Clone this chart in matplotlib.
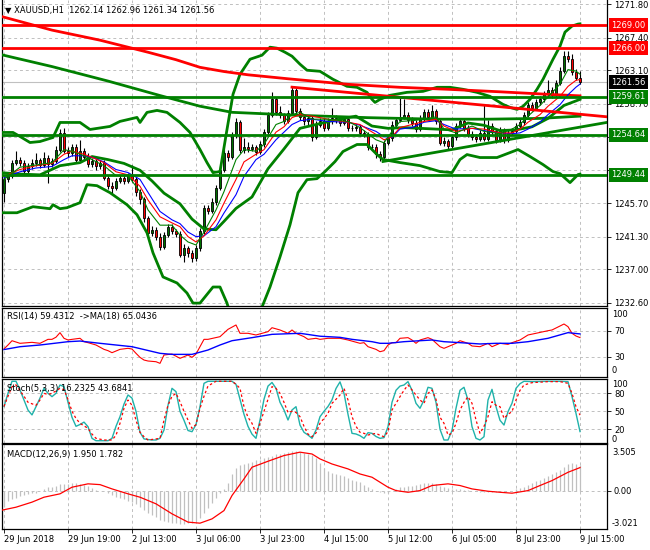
import matplotlib
matplotlib.use("Agg")
import matplotlib.pyplot as plt
import matplotlib.transforms as mtransforms
import numpy as np

plt.rcParams['font.family'] = ['DejaVu Sans']
FS = 6

# ---- hourly candles, XAUUSD H1 (bar 0 .. 144) ----
opens = [1247.0, 1248.8, 1249.3, 1251.0, 1251.4, 1251.0, 1249.9, 1250.5, 1250.9, 1251.3,
         1250.7, 1251.6, 1250.8, 1251.2, 1252.7, 1254.9, 1252.5, 1252.3, 1253.0, 1251.4,
         1252.5, 1251.8, 1250.8, 1251.2, 1250.5, 1251.0, 1249.0, 1248.0, 1247.7, 1248.6,
         1249.0, 1248.6, 1249.2, 1248.8, 1247.2, 1246.2, 1243.7, 1241.8, 1242.2, 1241.3,
         1240.0, 1241.5, 1242.6, 1242.0, 1241.7, 1238.9, 1239.8, 1239.1, 1238.5, 1239.8,
         1242.0, 1245.0, 1244.7, 1245.8, 1247.7, 1250.1, 1252.3, 1251.8, 1254.6, 1256.3,
         1252.6, 1253.1, 1252.8, 1253.0, 1252.4, 1253.4, 1255.0, 1257.3, 1259.3, 1257.6,
         1257.2, 1256.5, 1257.5, 1260.5, 1257.8, 1257.0, 1256.4, 1256.8, 1254.4, 1256.0,
         1256.4, 1255.6, 1256.4, 1256.8, 1256.6, 1256.2, 1256.7, 1255.6, 1255.5, 1255.7,
         1254.9, 1254.7, 1253.1, 1253.0, 1252.1, 1251.8, 1253.6, 1254.2, 1256.0, 1256.6,
         1257.0, 1257.2, 1256.6, 1256.2, 1255.4, 1256.8, 1257.6, 1257.0, 1257.8, 1256.5,
         1253.6, 1253.8, 1253.2, 1254.3, 1255.8, 1256.4, 1255.5, 1254.7, 1254.4, 1254.1,
         1254.9, 1254.1, 1255.8, 1255.1, 1254.0, 1255.3, 1254.0, 1254.9, 1255.2, 1255.8,
         1256.3, 1257.3, 1258.6, 1258.2, 1258.9, 1259.3, 1260.0, 1260.5, 1259.9, 1261.5,
         1263.0, 1265.0, 1264.6, 1262.9, 1262.14]
highs = [1249.2, 1249.8, 1251.3, 1252.5, 1251.8, 1251.3, 1250.9, 1251.5, 1252.2, 1251.6,
         1252.4, 1252.0, 1251.6, 1253.2, 1255.4, 1255.5, 1253.0, 1253.5, 1253.4, 1254.0,
         1252.9, 1252.2, 1251.6, 1251.5, 1251.4, 1251.3, 1249.3, 1248.4, 1249.0, 1249.4,
         1249.5, 1249.6, 1250.7, 1249.1, 1247.6, 1246.5, 1244.0, 1242.7, 1242.6, 1241.8,
         1241.9, 1243.0, 1242.9, 1242.3, 1242.0, 1240.3, 1240.1, 1239.5, 1240.2, 1242.4,
         1245.4, 1245.5, 1246.4, 1248.1, 1250.5, 1252.8, 1252.7, 1255.0, 1256.9, 1256.6,
         1254.2, 1253.7, 1253.5, 1253.3, 1253.8, 1255.4, 1257.7, 1260.2, 1259.6, 1258.4,
         1257.5, 1257.9, 1261.0, 1260.8, 1258.2, 1257.3, 1257.2, 1257.1, 1256.4, 1256.9,
         1256.8, 1256.8, 1258.2, 1257.2, 1257.0, 1257.1, 1257.0, 1256.0, 1256.1, 1256.0,
         1255.3, 1255.0, 1253.5, 1253.4, 1252.5, 1254.0, 1254.6, 1256.4, 1257.0, 1259.5,
         1259.3, 1257.6, 1257.0, 1256.6, 1257.2, 1258.0, 1258.0, 1258.6, 1258.1, 1256.8,
         1254.4, 1254.1, 1254.7, 1256.2, 1256.9, 1256.7, 1255.9, 1255.1, 1254.8, 1255.3,
         1258.6, 1256.6, 1256.2, 1255.4, 1255.7, 1255.6, 1255.3, 1255.6, 1256.2, 1256.7,
         1257.7, 1259.0, 1259.0, 1259.4, 1259.8, 1260.4, 1261.9, 1260.9, 1261.9, 1263.5,
         1265.6, 1265.6, 1265.2, 1263.3, 1262.96]
lows = [1245.9, 1248.4, 1249.0, 1250.7, 1250.6, 1249.4, 1249.6, 1250.2, 1250.6, 1250.3,
        1250.4, 1248.3, 1250.4, 1250.9, 1252.4, 1252.2, 1251.8, 1251.9, 1251.0, 1251.1,
        1251.4, 1250.4, 1250.4, 1250.1, 1250.2, 1248.7, 1247.6, 1247.0, 1247.4, 1248.3,
        1248.2, 1248.3, 1248.5, 1246.6, 1245.6, 1243.2, 1241.3, 1241.4, 1240.9, 1239.6,
        1239.7, 1241.2, 1241.6, 1241.3, 1238.6, 1238.0, 1238.6, 1238.0, 1238.1, 1239.4,
        1241.7, 1244.2, 1244.4, 1245.5, 1247.4, 1249.8, 1251.2, 1251.5, 1254.2, 1252.2,
        1252.3, 1252.4, 1252.5, 1252.0, 1252.1, 1253.1, 1254.7, 1257.0, 1257.2, 1256.8,
        1256.1, 1256.2, 1257.2, 1257.4, 1256.6, 1255.9, 1256.0, 1253.9, 1254.1, 1255.7,
        1255.2, 1255.3, 1256.1, 1256.2, 1255.8, 1255.9, 1255.2, 1255.1, 1255.2, 1254.5,
        1254.3, 1252.7, 1252.6, 1251.6, 1251.2, 1251.5, 1253.3, 1253.9, 1255.7, 1256.3,
        1256.7, 1256.2, 1255.8, 1255.0, 1255.1, 1256.5, 1256.7, 1256.7, 1256.1, 1253.3,
        1253.2, 1252.7, 1252.9, 1254.0, 1255.5, 1255.1, 1254.3, 1254.0, 1253.7, 1253.8,
        1253.8, 1253.8, 1254.7, 1253.6, 1253.7, 1253.6, 1253.7, 1254.6, 1254.9, 1255.5,
        1256.0, 1257.0, 1257.8, 1257.9, 1258.5, 1259.0, 1259.7, 1259.5, 1259.6, 1261.2,
        1262.7, 1264.2, 1262.5, 1261.8, 1261.34]
closes = [1248.8, 1249.3, 1251.0, 1251.4, 1251.0, 1249.9, 1250.5, 1250.9, 1251.3, 1250.7,
          1251.6, 1250.8, 1251.2, 1252.7, 1254.9, 1252.5, 1252.3, 1253.0, 1251.4, 1252.5,
          1251.8, 1250.8, 1251.2, 1250.5, 1251.0, 1249.0, 1248.0, 1247.7, 1248.6, 1249.0,
          1248.6, 1249.2, 1248.8, 1247.2, 1246.2, 1243.7, 1241.8, 1242.2, 1241.3, 1240.0,
          1241.5, 1242.6, 1242.0, 1241.7, 1238.9, 1239.8, 1239.1, 1238.5, 1239.8, 1242.0,
          1245.0, 1244.7, 1245.8, 1247.7, 1250.1, 1252.3, 1251.8, 1254.6, 1256.3, 1252.6,
          1253.1, 1252.8, 1253.0, 1252.4, 1253.4, 1255.0, 1257.3, 1259.3, 1257.6, 1257.2,
          1256.5, 1257.5, 1260.5, 1257.8, 1257.0, 1256.4, 1256.8, 1254.4, 1256.0, 1256.4,
          1255.6, 1256.4, 1256.8, 1256.6, 1256.2, 1256.7, 1255.6, 1255.5, 1255.7, 1254.9,
          1254.7, 1253.1, 1253.0, 1252.1, 1251.8, 1253.6, 1254.2, 1256.0, 1256.6, 1257.0,
          1257.2, 1256.6, 1256.2, 1255.4, 1256.8, 1257.6, 1257.0, 1257.8, 1256.5, 1253.6,
          1253.8, 1253.2, 1254.3, 1255.8, 1256.4, 1255.5, 1254.7, 1254.4, 1254.1, 1254.9,
          1254.1, 1255.8, 1255.1, 1254.0, 1255.3, 1254.0, 1254.9, 1255.2, 1255.8, 1256.3,
          1257.3, 1258.6, 1258.2, 1258.9, 1259.3, 1260.0, 1260.5, 1259.9, 1261.5, 1263.0,
          1265.0, 1264.6, 1262.9, 1262.14, 1261.56]

tick_bars = [0, 16, 32, 48, 64, 80, 96, 112, 128, 144]
tick_labels = ['29 Jun 2018', '29 Jun 19:00', '2 Jul 13:00', '3 Jul 06:00', '3 Jul 23:00',
               '4 Jul 15:00', '5 Jul 12:00', '6 Jul 05:00', '8 Jul 23:00', '9 Jul 15:00']
price_ticks = [1232.6, 1237.0, 1241.3, 1245.7, 1250.0, 1254.4, 1258.7, 1263.1, 1267.4, 1271.8]
hidden_ticks = [1250.0, 1254.4]

red_levels = [1269.00, 1266.00]
green_levels = [1259.61, 1254.64, 1249.44]
last_price = 1261.56

# ---- indicator lines: (bar, value) ----
ma_long = [(-1, 1270.22), (12, 1268.38), (24, 1267.06), (36, 1265.48), (43, 1264.5), (49, 1263.5),
           (55, 1262.95), (61, 1262.52), (71, 1262.0), (86, 1261.27), (99, 1260.88), (111, 1260.62),
           (124, 1260.29), (136, 1259.96), (144, 1259.76)]
band_long = [(-1, 1265.2), (12, 1263.6), (26, 1261.7), (39, 1259.8), (49, 1258.4), (57, 1257.6),
             (74, 1257.2), (91, 1256.9), (108, 1256.7), (121, 1256.7), (134, 1256.8), (144, 1257.1)]
red_trend = [(72, 1260.9), (151, 1257.0)]
green_trend = [(94.75, 1251.15), (151, 1256.3)]

bb_upper = [(-1, 1254.96), (2.25, 1254.96), (4, 1254.43), (6.5, 1253.64), (9, 1253.77), (12.25, 1254.30),
            (14, 1256.27), (16.5, 1256.27), (19, 1256.27), (21.5, 1255.35), (26.5, 1255.75), (29, 1256.41),
            (33.25, 1256.93), (34, 1256.27), (35.75, 1257.59), (38.25, 1257.85), (40.75, 1257.59), (44, 1256.27),
            (46.5, 1254.96), (49, 1252.72), (50.75, 1251.01), (52.25, 1249.69), (54, 1249.83), (55.75, 1255.35),
            (57.25, 1259.96), (59, 1262.59), (61.5, 1264.56), (64.5, 1265.09), (66.5, 1266.14), (68.25, 1266.01),
            (70.25, 1265.48), (72, 1264.96), (74, 1263.91), (75.75, 1263.12), (79, 1262.98), (82.25, 1261.93),
            (85.75, 1261.01), (88.25, 1260.88), (90.75, 1260.22), (92, 1259.30), (92.75, 1258.90), (94, 1259.30),
            (96.5, 1259.83), (100.75, 1260.22), (104.75, 1260.35), (108.25, 1260.88), (111.5, 1260.88),
            (114.75, 1260.62), (118.25, 1260.22), (121.5, 1259.69), (124.75, 1258.64), (126.5, 1258.25),
            (128.25, 1257.98), (129.75, 1258.38), (131.5, 1259.30), (133.25, 1260.62), (134.75, 1261.93),
            (137.25, 1264.56), (139, 1266.27), (140.25, 1268.12), (142, 1268.91), (143.5, 1269.17), (144, 1269.2)]
bb_middle = [(-1, 1249.7), (4, 1249.5), (9, 1249.4), (14, 1250.6), (19, 1251.0), (22, 1251.8), (26, 1251.4),
             (30, 1250.9), (34, 1250.0), (37, 1248.6), (40, 1247.0), (44, 1245.6), (47, 1243.6), (50, 1242.3),
             (53, 1242.2), (55, 1243.3), (58, 1245.0), (62, 1246.5), (66, 1250.2), (70, 1252.8), (74, 1255.5),
             (78, 1256.0), (82, 1256.5), (88, 1257.1), (92, 1255.8), (96, 1255.5), (100, 1255.6), (104, 1255.5),
             (108, 1255.4), (112, 1255.3), (116, 1256.2), (120, 1255.9), (124, 1255.2), (128, 1255.3),
             (132, 1255.7), (136, 1256.8), (140, 1258.5), (144, 1259.3)]
bb_lower = [(-1, 1244.43), (3.25, 1244.43), (7.25, 1245.22), (11.5, 1244.96), (12.25, 1245.48), (14, 1244.96),
            (15.75, 1245.09), (19, 1245.75), (20.75, 1248.11), (23.25, 1247.98), (26.5, 1247.06), (30.75, 1245.48),
            (33.25, 1244.17), (35.75, 1241.80), (37.25, 1239.17), (39.75, 1236.01), (43.25, 1235.22),
            (45.75, 1233.90), (47.25, 1232.58), (49, 1232.58), (52.25, 1234.69), (54, 1234.69), (55.75, 1232.58),
            (57.75, 1229.0), (61.5, 1228.4), (64.5, 1232.06), (66.5, 1234.69), (69, 1238.64), (71.5, 1242.85),
            (73.5, 1247.06), (75.75, 1248.77), (78.25, 1248.90), (80.25, 1249.83), (82.75, 1251.14),
            (84.75, 1252.46), (88.25, 1253.38), (90.75, 1253.38), (93.25, 1252.06), (94.75, 1251.41),
            (99, 1251.01), (104, 1250.61), (109, 1249.83), (112, 1249.69), (114, 1251.41), (115.75, 1252.06),
            (119, 1251.67), (123.25, 1251.67), (128.5, 1252.72), (131.5, 1251.80), (134.75, 1250.75),
            (137.25, 1249.83), (139, 1249.56), (141.5, 1248.38), (143.5, 1249.43), (144, 1249.5)]

ma_bars = [0, 4, 8, 12, 15, 17, 20, 22, 25, 28, 31, 34, 36, 39, 42, 44, 46, 48, 50, 53,
           55, 58, 60, 63, 65, 68, 70, 72, 74, 77, 81, 86, 89, 93, 95, 97, 99, 102, 105, 108,
           110, 113, 117, 120, 124, 127, 129, 131, 134, 136, 139, 141, 143, 144]
ma_fast = [1248.8, 1250.4, 1250.7, 1251.0, 1252.7, 1252.5, 1251.9, 1251.4, 1250.6, 1249.3,
           1249.3, 1247.2, 1244.8, 1242.8, 1242.8, 1241.5, 1240.6, 1240.2, 1241.9, 1244.8,
           1247.2, 1251.4, 1252.7, 1252.5, 1253.4, 1256.0, 1256.4, 1257.3, 1257.6, 1256.7,
           1256.7, 1256.4, 1255.6, 1254.0, 1253.6, 1255.1, 1256.4, 1256.5, 1256.7, 1257.0,
           1255.4, 1254.9, 1255.8, 1255.1, 1254.8, 1255.4, 1256.0, 1257.1, 1258.5, 1259.6,
           1261.3, 1263.2, 1263.0, 1262.6]
ma_mid = [1249.2, 1250.1, 1250.6, 1250.9, 1252.1, 1252.5, 1252.1, 1251.7, 1251.0, 1249.8,
          1249.4, 1247.9, 1246.1, 1243.9, 1243.1, 1242.6, 1241.3, 1240.6, 1241.4, 1243.5,
          1245.7, 1248.8, 1251.1, 1252.1, 1252.7, 1255.0, 1255.7, 1256.9, 1257.3, 1257.1,
          1256.7, 1256.3, 1256.0, 1254.7, 1254.0, 1254.4, 1255.6, 1256.0, 1256.4, 1256.7,
          1255.8, 1255.1, 1255.5, 1255.4, 1254.9, 1254.9, 1255.4, 1256.3, 1257.3, 1258.4,
          1259.7, 1261.0, 1261.8, 1261.9]
ma_slow = [1249.0, 1249.8, 1250.3, 1250.5, 1251.4, 1251.9, 1251.9, 1251.7, 1251.1, 1250.1,
           1249.7, 1248.8, 1247.1, 1244.6, 1243.5, 1243.0, 1241.9, 1241.3, 1241.4, 1242.6,
           1244.4, 1246.8, 1249.2, 1251.4, 1252.1, 1254.0, 1255.0, 1256.0, 1256.5, 1256.7,
           1256.4, 1256.3, 1255.9, 1255.1, 1254.4, 1254.3, 1255.4, 1255.6, 1256.3, 1256.5,
           1256.0, 1255.4, 1255.5, 1255.2, 1254.9, 1254.8, 1254.9, 1255.4, 1256.3, 1257.3,
           1258.6, 1259.9, 1260.9, 1261.3]

rsi = [(0, 42), (1, 48.0), (2, 54.6), (4, 50.6), (6, 51.6), (7, 52.1), (9, 50.6), (11, 56.7), (12, 56.7),
       (13, 60), (14, 67.0), (15, 58.3), (16, 55.7), (17, 56.7), (19, 58.3), (20, 53.1), (21, 51.6),
       (23, 48.0), (25, 41.3), (26, 39.3), (27, 36.2), (29, 41.3), (31, 42.9), (32, 41.8), (33, 35.2),
       (34, 29.0), (35, 24.9), (36, 23.4), (38, 22.3), (39, 19.8), (40, 32.6), (42, 34.1), (44, 27.5),
       (46, 32.6), (47, 29.0), (48, 34.1), (50, 56.7), (51, 56.7), (54, 60.8), (56, 72.1), (58, 78.8),
       (59, 66.0), (61, 66.0), (63, 63.4), (66, 68.5), (67, 74.6), (69, 71.1), (71, 66.0), (72, 71.1),
       (73, 66.0), (75, 60.8), (76, 56.7), (78, 58.3), (79, 56.7), (81, 58.3), (84, 58.3), (86, 55.7),
       (89, 50.6), (90, 51.6), (91, 45.4), (93, 41.3), (94, 37.7), (95, 39.3), (96, 48.0), (97, 51.6),
       (98, 51.6), (99, 58.3), (101, 59.3), (102, 55.7), (103, 50.6), (104, 55.7), (106, 59.3), (107, 56.7),
       (109, 45.4), (110, 42.9), (111, 45.4), (113, 50.6), (114, 54.6), (116, 50.6), (117, 46.5),
       (119, 45.4), (121, 50.6), (122, 45.4), (123, 48.0), (124, 50.6), (126, 49.0), (127, 51.6),
       (129, 55.7), (131, 63.4), (133, 66.0), (136, 70.0), (137, 71.1), (139, 77.2), (140, 80.3),
       (141, 76.2), (142, 66.0), (143, 61.8), (144, 59.43)]
rsi_ma = [(0, 41), (4, 45.4), (9, 48.0), (16, 53.1), (19, 54.1), (24, 50.6), (32, 45.4), (39, 35.2),
          (42, 33.6), (47, 33.6), (51, 40.3), (54, 48.0), (57, 54.6), (62, 59.3), (67, 64.4), (74, 66.0),
          (79, 61.5), (84, 59.8), (87, 56.7), (92, 53.1), (94, 50.6), (96, 50.6), (100, 53.1), (104, 54.6),
          (107, 55.7), (110, 53.1), (114, 51.6), (119, 49.6), (123, 50.6), (127, 50.6), (131, 53.1),
          (136, 58.3), (141, 67.0), (144, 65.04)]

stoch_k = [(0, 58), (1, 80), (2, 100), (3, 100), (4, 85.5), (6, 52), (7, 44), (8, 57.7), (9, 72), (10, 88.3),
           (11, 80), (12, 74.4), (13, 80), (14, 93.8), (15, 91.1), (16, 65), (17, 40), (18, 25), (19, 28),
           (20, 32), (21, 24.4), (22, 5), (23, 1), (24, 1), (26, 1), (27, 5), (28, 25), (29, 41.1), (30, 62),
           (31, 77.2), (32, 72), (33, 50), (34, 15), (35, 4), (36, 3), (37, 2.2), (38, 2.2), (39, 5),
           (40, 18.8), (41, 60), (42, 88.3), (43, 82.7), (44, 50), (45, 35), (46, 18), (47, 16), (48, 28),
           (49, 57.7), (50, 96.6), (51, 100), (54, 100), (57, 100), (58, 95), (59, 70), (60, 45), (61, 25),
           (62, 12), (63, 5), (64, 35.5), (65, 70), (66, 92), (67, 98), (68, 88.3), (69, 65), (70, 52.2),
           (71, 35.5), (72, 52.2), (73, 57.7), (74, 27.1), (75, 15), (76, 10.5), (77, 5), (78, 18.8),
           (79, 41), (80, 50), (81, 58), (82, 69), (83, 88), (84, 99), (85, 80), (86, 45), (87, 13.3),
           (88, 12.2), (89, 9.4), (90, 5), (91, 14.4), (92, 13.3), (93, 8), (94, 5), (95, 6.1), (96, 24.4),
           (97, 65), (98, 85), (99, 92), (100, 93.8), (101, 99.4), (102, 85), (103, 63.3), (104, 55),
           (105, 68.8), (106, 90), (107, 88.3), (108, 65), (109, 20), (110, 2.2), (111, 2.2), (112, 18),
           (113, 55), (114, 85), (115, 90), (116, 68.8), (117, 24.4), (118, 5), (119, 2.2), (120, 7.7),
           (121, 68.8), (122, 86.6), (123, 57.7), (124, 35), (125, 27.1), (126, 49.4), (127, 63.3),
           (128, 88.3), (129, 96), (130, 100), (132, 99.4), (136, 100), (139, 100), (141, 99.4),
           (142, 74.4), (143, 46.6), (144, 16.23)]
stoch_d = [(0, 58), (1, 75), (2, 91), (3, 94), (5, 75), (6, 65), (8, 60), (9, 68.8), (10, 79.9), (11, 78),
           (12, 80), (13, 84), (14, 88.3), (15, 86), (16, 70), (17, 50), (18, 38), (19, 30), (21, 21.6),
           (22, 12), (23, 5), (25, 2.2), (27, 2.2), (28, 10), (29, 30), (30, 55), (31, 68.8), (32, 60),
           (33, 35), (34, 15), (35, 7.7), (36, 2.2), (39, 4.9), (40, 35.5), (41, 60), (42, 75), (43, 79.9),
           (44, 66.0), (45, 50), (46, 35.5), (47, 21.6), (48, 28), (49, 55), (50, 75), (51, 92.2), (53, 100),
           (57, 100), (58, 95), (59, 88.3), (60, 57.7), (61, 40), (62, 30), (63, 13.3), (64, 29.9), (65, 50),
           (66, 70), (67, 91.1), (68, 88), (69, 80), (70, 65), (71, 48), (72, 50), (73, 48), (74, 41.1),
           (75, 25), (76, 12), (77, 7.7), (78, 14), (79, 30), (80, 38), (81, 46.6), (82, 63.3), (83, 70),
           (84, 77.2), (85, 88.3), (86, 68.8), (87, 41.1), (88, 25), (89, 15), (90, 13.3), (91, 10.5),
           (93, 13.3), (94, 10), (95, 7.7), (96, 16.0), (97, 52.2), (99, 74.4), (100, 85), (101, 93.8),
           (102, 85.5), (104, 68.8), (105, 63.3), (106, 79.9), (107, 85.5), (108, 70), (109, 40), (110, 30),
           (111, 10.5), (112, 13.3), (113, 30), (114, 52.2), (115, 65), (116, 74.4), (117, 63.3), (118, 35.5),
           (119, 13.3), (120, 25), (121, 41.1), (122, 66.0), (123, 60), (124, 57.7), (125, 38.3), (126, 45),
           (127, 49.4), (128, 68.8), (129, 85), (130, 93.8), (132, 97.7), (136, 99.4), (139, 99.4),
           (141, 96.6), (142, 79.9), (143, 57.7), (144, 43.68)]

macd_main = [-1.27, -0.77, -0.65, -0.55, -0.40, -0.30, -0.25, -0.20, -0.15, -0.05,
             0.15, 0.25, 0.30, 0.40, 0.50, 0.55, 0.55, 0.60, 0.60, 0.55,
             0.45, 0.40, 0.20, 0.05, 0.00, -0.05, -0.20, -0.35, -0.45, -0.55,
             -0.65, -0.80, -0.90, -1.05, -1.25, -1.45, -1.70, -1.90, -2.05, -2.25,
             -2.35, -2.40, -2.45, -2.50, -2.55, -2.55, -2.50, -2.45, -2.35, -2.10,
             -1.70, -1.35, -0.95, -0.55, -0.20, 0.15, 0.60, 1.30, 1.75, 1.95,
             2.05, 2.15, 2.25, 2.35, 2.40, 2.50, 2.60, 2.70, 2.80, 2.85,
             2.90, 3.00, 3.05, 3.05, 3.00, 2.90, 2.85, 2.75, 2.55, 2.10,
             1.75, 1.50, 1.35, 1.25, 1.20, 1.10, 0.95, 0.85, 0.75, 0.65,
             0.45, 0.30, 0.15, 0.00, -0.10, -0.20, -0.15, 0.00, 0.10, 0.25,
             0.30, 0.35, 0.40, 0.45, 0.55, 0.60, 0.62, 0.60, 0.50, 0.35,
             0.25, 0.20, 0.15, 0.10, 0.10, 0.05, 0.02, 0.00, -0.05, -0.08,
             -0.10, -0.10, -0.12, -0.12, -0.10, -0.08, -0.05, 0.00, 0.10, 0.20,
             0.30, 0.45, 0.60, 0.75, 0.85, 1.00, 1.15, 1.30, 1.45, 1.60,
             1.85, 2.05, 2.10, 2.05, 1.95]
macd_signal = [(-1, -1.53), (3, -1.27), (7, -0.88), (10, -0.50), (14, -0.24), (17, 0.27), (21, 0.53),
               (24, 0.47), (27, 0.14), (31, -0.24), (34, -0.50), (38, -1.01), (42, -1.78), (46, -2.42),
               (49, -2.50), (52, -2.17), (55, -1.53), (57, -0.37), (60, 0.91), (62, 1.81), (66, 2.27),
               (70, 2.71), (74, 2.97), (77, 2.83), (79, 2.45), (82, 2.06), (86, 1.68), (89, 1.29),
               (92, 1.04), (96, 0.27), (98, 0.01), (101, -0.12), (104, 0.01), (107, 0.40), (111, 0.53),
               (114, 0.40), (117, 0.14), (121, -0.04), (124, -0.12), (127, -0.19), (131, 0.01),
               (134, 0.40), (137, 0.78), (141, 1.42), (144, 1.782)]

# ---- layout (pixel rows of the 650x550 picture) ----
W, H = 650.0, 550.0


def panel(top, bottom):
    return [2 / W, 1 - bottom / H, 605 / W, (bottom - top) / H]


fig = plt.figure(figsize=(6.5, 5.5), dpi=100)
ax = fig.add_axes(panel(0, 306))
ax_rsi = fig.add_axes(panel(308, 377))
ax_sto = fig.add_axes(panel(379, 443))
ax_macd = fig.add_axes(panel(444, 529))

GREEN = '#008000'
THICK = 2.0
grid_kw = dict(color='#C0C0C0', lw=0.7, ls=(0, (3, 3)), zorder=0)
lab_x = 1 + 5 / 605

for a in (ax, ax_rsi, ax_sto, ax_macd):
    a.set_xlim(-0.5, 150.75)
    for s in a.spines.values():
        s.set_linewidth(0.9)
    for b in tick_bars:
        a.axvline(b, **grid_kw)
    a.yaxis.tick_right()
    a.tick_params(axis='y', direction='out', length=3, width=0.6, labelsize=FS, pad=2)
    a.tick_params(axis='x', bottom=False, labelbottom=False)
ax.spines['top'].set_visible(False)

# ---- main price panel ----
ax.set_ylim(1232.2, 1272.33)
ax.set_yticks(price_ticks)
ax.set_yticklabels(['' if p in hidden_ticks else f'{p:.2f}' for p in price_ticks])
for p in price_ticks:
    ax.axhline(p, **grid_kw)
ax.axhline(last_price, color='#C0C0C0', lw=0.8, zorder=1)

idx = np.arange(len(closes))
o = np.array(opens)
c = np.array(closes)
bull = c >= o
body_lo = np.minimum(o, c)
body_h = np.maximum(np.abs(c - o), 0.08)
ax.vlines(idx, lows, highs, color='black', lw=0.8, zorder=2)
ax.bar(idx[bull], body_h[bull], bottom=body_lo[bull], width=0.7, color='#007000',
       edgecolor='black', lw=0.6, zorder=3)
ax.bar(idx[~bull], body_h[~bull], bottom=body_lo[~bull], width=0.7, color='#FF0000',
       edgecolor='black', lw=0.6, zorder=3)

for pts in (bb_upper, bb_middle, bb_lower, band_long):
    xs, ys = zip(*pts)
    ax.plot(xs, ys, color=GREEN, lw=THICK, zorder=4)
xs, ys = zip(*ma_long)
ax.plot(xs, ys, color='red', lw=THICK, zorder=4)
ax.plot(ma_bars, ma_slow, color='blue', lw=0.8, zorder=5)
ax.plot(ma_bars, ma_mid, color='red', lw=0.8, zorder=5)
ax.plot(ma_bars, ma_fast, color=GREEN, lw=0.8, zorder=5)

for pts, col in ((red_trend, 'red'), (green_trend, GREEN)):
    xs, ys = zip(*pts)
    ax.plot(xs, ys, color=col, lw=THICK, zorder=5)
for lvl in red_levels:
    ax.axhline(lvl, color='red', lw=THICK, zorder=6)
for lvl in green_levels:
    ax.axhline(lvl, color=GREEN, lw=THICK, zorder=6)

trans = mtransforms.blended_transform_factory(ax.transAxes, ax.transData)


def price_box(val, fc):
    ax.text(1 + 4 / 605, val, f'{val:.2f}', transform=trans, ha='left', va='center',
            fontsize=FS, color='white', clip_on=False, zorder=10,
            bbox=dict(boxstyle='square,pad=0.3', fc=fc, ec='none'))


for lvl in red_levels:
    price_box(lvl, 'red')
for lvl in green_levels:
    price_box(lvl, GREEN)
price_box(last_price, 'black')

# ---- RSI ----
ax_rsi.set_ylim(-1.2, 104.9)
ax_rsi.set_yticks([70, 30])
for v in (70, 30):
    ax_rsi.axhline(v, **grid_kw)
xs, ys = zip(*rsi)
ax_rsi.plot(xs, ys, color='red', lw=0.8, zorder=3)
xs, ys = zip(*rsi_ma)
ax_rsi.plot(xs, ys, color='blue', lw=1.0, zorder=3)
ax_rsi.text(lab_x, 0.9, '100', transform=ax_rsi.transAxes, fontsize=FS, va='center')
ax_rsi.text(lab_x, 0.09, '0', transform=ax_rsi.transAxes, fontsize=FS, va='center')

# ---- Stochastic ----
ax_sto.set_ylim(-2.8, 103.8)
ax_sto.set_yticks([80, 50, 20])
for v in (80, 50, 20):
    ax_sto.axhline(v, **grid_kw)
xs, ys = zip(*stoch_k)
ax_sto.plot(xs, ys, color='#20B2AA', lw=1.0, zorder=3)
xs, ys = zip(*stoch_d)
ax_sto.plot(xs, ys, color='red', lw=0.9, ls=(0, (2, 2)), zorder=4)
ax_sto.text(lab_x, 0.92, '100', transform=ax_sto.transAxes, fontsize=FS, va='center')
ax_sto.text(lab_x, 0.055, '0', transform=ax_sto.transAxes, fontsize=FS, va='center')

# ---- MACD ----
ax_macd.set_ylim(-2.95, 3.6)
ax_macd.set_yticks([0])
ax_macd.set_yticklabels(['0.00'])
ax_macd.axhline(0, **grid_kw)
ax_macd.vlines(idx, 0, macd_main, color='#C0C0C0', lw=0.9, zorder=2)
xs, ys = zip(*macd_signal)
ax_macd.plot(xs, ys, color='red', lw=0.9, zorder=3)
ax_macd.text(lab_x, 0.9, '3.505', transform=ax_macd.transAxes, fontsize=FS, va='center')
ax_macd.text(lab_x, 0.07, '-3.021', transform=ax_macd.transAxes, fontsize=FS, va='center')

ax_macd.set_xticks(tick_bars)
ax_macd.set_xticklabels(tick_labels, ha='left', fontsize=FS)
ax_macd.tick_params(axis='x', bottom=True, labelbottom=True, direction='out',
                    length=3, width=0.6, pad=1.5)

# ---- captions ----
fig.text(5 / W, 1 - 10 / H, '\u25bc XAUUSD,H1  1262.14 1262.96 1261.34 1261.56', fontsize=FS, va='center')
fig.text(7 / W, 1 - 317 / H, 'RSI(14) 59.4312  ->MA(18) 65.0436', fontsize=FS, va='center')
fig.text(7 / W, 1 - 388 / H, 'Stoch(5,3,3) 16.2325 43.6841', fontsize=FS, va='center')
fig.text(7 / W, 1 - 454 / H, 'MACD(12,26,9) 1.950 1.782', fontsize=FS, va='center')

fig.savefig('out.png', dpi=100)
